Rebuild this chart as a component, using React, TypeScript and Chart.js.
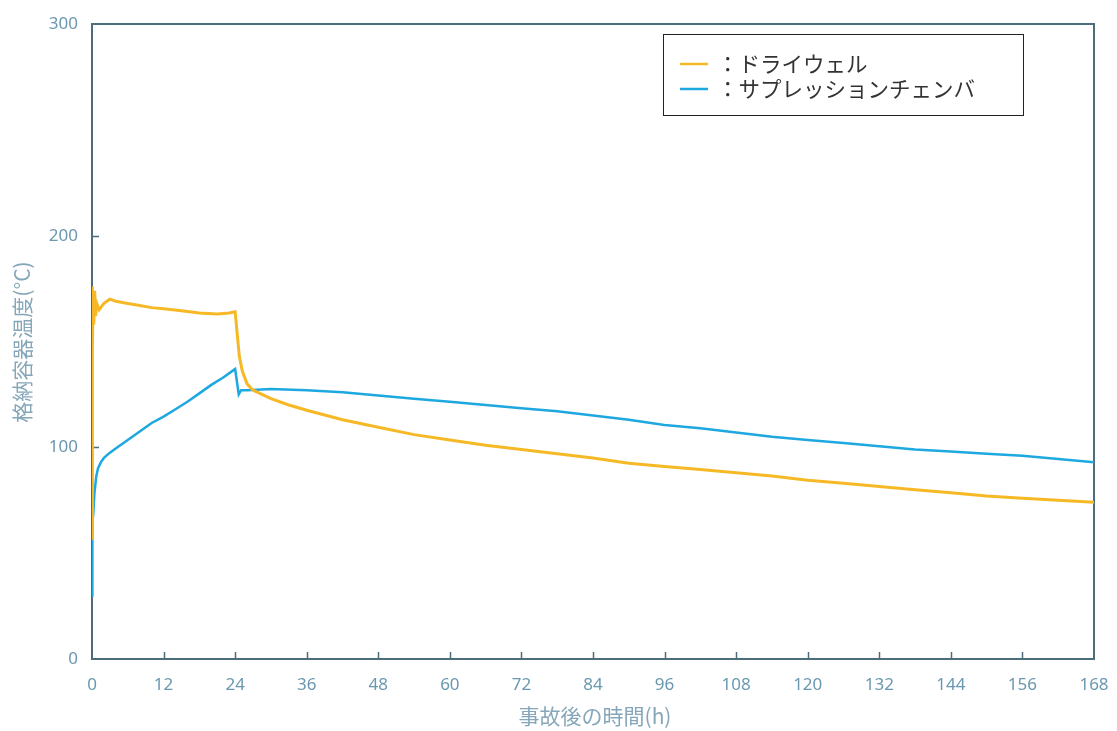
import React, { useEffect, useRef } from "react";
import { Chart, registerables } from "chart.js";
Chart.register(...registerables);

const xTickValues = [0, 12, 24, 36, 48, 60, 72, 84, 96, 108, 120, 132, 144, 156, 168];
const yTickValues = [0, 100, 200, 300];

const dwHours = [0, 0.02, 0.05, 0.12, 0.2, 0.3, 0.45, 0.6, 0.8, 1.2, 2, 3, 4, 6, 8, 10, 12, 15, 18, 21, 23, 24, 24.3, 24.7, 25.2, 26, 27, 28.5, 30, 33, 36, 42, 48, 54, 60, 66, 72, 78, 84, 90, 96, 102, 108, 114, 120, 126, 132, 138, 144, 150, 156, 162, 168];
const dwTemps = [57, 120, 176, 147, 172, 158, 174, 162, 168, 165, 168, 170, 169, 168, 167, 166, 165.5, 164.5, 163.5, 163, 163.5, 164, 155, 143, 136, 130, 127, 125, 123, 120, 117.5, 113, 109.5, 106, 103.5, 101, 99, 97, 95, 92.5, 91, 89.5, 88, 86.5, 84.5, 83, 81.5, 80, 78.5, 77, 76, 75, 74];

const scHours = [0, 0.02, 0.1, 0.2, 0.4, 0.7, 1, 1.5, 2, 3, 4.5, 6, 8, 10, 12, 14, 16, 18, 20, 22, 23.5, 24, 24.6, 25, 26, 30, 36, 42, 48, 54, 60, 66, 72, 78, 84, 90, 96, 102, 108, 114, 120, 126, 132, 138, 144, 150, 156, 162, 168];
const scTemps = [30, 55, 66, 68, 78, 86, 90, 93, 95, 97.5, 100.5, 103.5, 107.5, 111.5, 114.5, 118, 121.5, 125.5, 129.5, 133, 136, 137, 125, 127, 127, 127.5, 127, 126, 124.5, 123, 121.5, 120, 118.5, 117, 115, 113, 110.5, 109, 107, 105, 103.5, 102, 100.5, 99, 98, 97, 96, 94.5, 93];

const seriesLabels = ["：ドライウェル", "：サプレッションチェンバ"];
const seriesColors = ["#F6B925", "#1EA8E0"];
const xTitle = "事故後の時間(h)";
const yTitle = "格納容器温度(°C)";

const tickColor = "#6a98b0";
const axisColor = "#4e6d7a";
const titleColor = "#86a7ba";

export default function App() {
  const ref = useRef<HTMLCanvasElement>(null);
  useEffect(() => {
    document.body.style.margin = "0";
    const canvas = ref.current!;
    const decor = {
      id: "decor",
      beforeDatasetsDraw(chart: any) {
        const { ctx, chartArea: a, scales } = chart;
        ctx.save();
        ctx.strokeStyle = axisColor;
        ctx.lineWidth = 2;
        ctx.strokeRect(a.left, a.top, a.right - a.left, a.bottom - a.top);
        ctx.lineWidth = 1.5;
        ctx.beginPath();
        for (const v of xTickValues) {
          if (v === 0 || v === 168) continue;
          const x = Math.round(scales.x.getPixelForValue(v)) + 0.5;
          ctx.moveTo(x, a.bottom);
          ctx.lineTo(x, a.bottom - 7);
        }
        for (const v of yTickValues) {
          if (v === 0 || v === 300) continue;
          const y = Math.round(scales.y.getPixelForValue(v)) + 0.5;
          ctx.moveTo(a.left, y);
          ctx.lineTo(a.left + 7, y);
        }
        ctx.stroke();
        ctx.restore();
      },
      afterDraw(chart: any) {
        const { ctx } = chart;
        ctx.save();
        ctx.fillStyle = titleColor;
        ctx.font = "21px 'Noto Sans CJK JP'";
        ctx.textAlign = "center";
        ctx.textBaseline = "middle";
        ctx.fillText(xTitle, 595, 716);
        ctx.translate(22, 342);
        ctx.rotate(-Math.PI / 2);
        ctx.fillText(yTitle, 0, 0);
        ctx.restore();
        ctx.save();
        ctx.fillStyle = "#ffffff";
        ctx.fillRect(663, 34, 360, 81);
        ctx.strokeStyle = "#222";
        ctx.lineWidth = 1;
        ctx.strokeRect(663.5, 34.5, 360, 81);
        const rows = [64, 89];
        ctx.font = "21.5px 'Noto Sans CJK JP'";
        ctx.textAlign = "left";
        ctx.textBaseline = "middle";
        seriesLabels.forEach((lab, i) => {
          ctx.strokeStyle = seriesColors[i];
          ctx.lineWidth = 2.5;
          ctx.beginPath();
          ctx.moveTo(680, rows[i]);
          ctx.lineTo(708, rows[i]);
          ctx.stroke();
          ctx.fillStyle = "#333";
          ctx.fillText(lab, 717, rows[i]);
        });
        ctx.restore();
      },
    };
    const chart = new Chart(canvas, {
      type: "line",
      data: {
        datasets: [
          {
            label: seriesLabels[0],
            data: dwHours.map((h, i) => ({ x: h, y: dwTemps[i] })),
            borderColor: seriesColors[0],
            borderWidth: 3,
            pointRadius: 0,
            tension: 0,
          },
          {
            label: seriesLabels[1],
            data: scHours.map((h, i) => ({ x: h, y: scTemps[i] })),
            borderColor: seriesColors[1],
            borderWidth: 2.5,
            pointRadius: 0,
            tension: 0,
          },
        ],
      },
      options: {
        animation: false,
        responsive: false,
        layout: { padding: { top: 24, right: 23, left: 0, bottom: 0 } },
        plugins: { legend: { display: false }, tooltip: { enabled: false } },
        scales: {
          x: {
            type: "linear",
            min: 0,
            max: 168,
            afterBuildTicks: (s: any) => {
              s.ticks = xTickValues.map((v) => ({ value: v }));
            },
            afterFit: (s: any) => {
              s.height = 72;
              s.paddingLeft = 0;
              s.paddingRight = 0;
            },
            ticks: { color: tickColor, font: { family: "'Noto Sans'", size: 17 }, padding: 16, maxRotation: 0, autoSkip: false },
            grid: { display: false, drawTicks: false },
            border: { display: false },
          },
          y: {
            min: 0,
            max: 300,
            afterBuildTicks: (s: any) => {
              s.ticks = yTickValues.map((v) => ({ value: v }));
            },
            afterFit: (s: any) => {
              s.width = 92;
              s.paddingTop = 0;
              s.paddingBottom = 0;
            },
            ticks: { color: tickColor, font: { family: "'Noto Sans'", size: 17 }, padding: 14 },
            grid: { display: false, drawTicks: false },
            border: { display: false },
          },
        },
      },
      plugins: [decor],
    });
    return () => chart.destroy();
  }, []);
  return (
    <div style={{ position: "fixed", left: 0, top: 0, width: 1117, height: 731, background: "#fff" }}>
      <canvas ref={ref} width={1117} height={731} />
    </div>
  );
}
